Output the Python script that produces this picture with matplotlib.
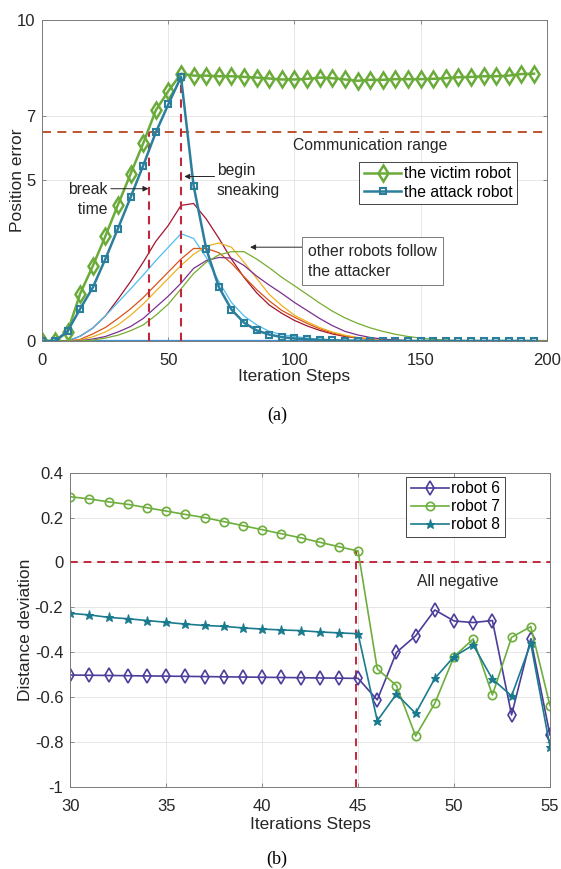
import numpy as np
import matplotlib
matplotlib.use('Agg')
import matplotlib.pyplot as plt

plt.rcParams['font.family'] = ['Liberation Sans', 'DejaVu Sans']

# ---------------- Daten (a) ----------------
steps = list(range(0, 200, 5))          # 0..195
steps_o = list(range(0, 205, 5))        # 0..200

victim = [0, 0, 0.28, 1.47, 2.33, 3.26, 4.24, 5.2, 6.15, 7.18, 7.78, 8.32, 8.26, 8.26,
          8.24, 8.24, 8.22, 8.2, 8.17, 8.14, 8.14, 8.16, 8.2, 8.18, 8.14, 8.1, 8.13,
          8.13, 8.15, 8.15, 8.15, 8.16, 8.18, 8.21, 8.22, 8.24, 8.24, 8.26, 8.31, 8.32]
attack = [0, 0, 0.3, 1.0, 1.66, 2.55, 3.5, 4.47, 5.46, 6.49, 7.37, 8.22, 4.83, 2.87,
          1.68, 0.98, 0.57, 0.33, 0.2, 0.12, 0.08, 0.05, 0.03, 0.02, 0.01, 0.01] + [0] * 14

rob_blue = [0] * 41
rob_red = [0, 0, 0, 0.15, 0.4, 0.78, 1.3, 1.85, 2.45, 3.1, 3.6, 4.22, 4.28, 3.8, 3.2, 2.55,
           1.98, 1.5, 1.12, 0.86, 0.64, 0.47, 0.33, 0.22, 0.14, 0.09, 0.05, 0.03, 0.02,
           0.01] + [0] * 11
rob_lblue = [0, 0, 0, 0.15, 0.4, 0.78, 1.2, 1.62, 2.05, 2.5, 2.92, 3.34, 3.19, 2.6, 1.85,
             1.2, 0.78, 0.5, 0.3, 0.2, 0.14, 0.09, 0.06, 0.04, 0.02, 0.01] + [0] * 15
rob_orange = [0, 0, 0, 0.05, 0.22, 0.42, 0.7, 1.0, 1.35, 1.75, 2.15, 2.55, 2.88, 2.88,
              2.75, 2.42, 2.0, 1.6, 1.25, 0.95, 0.74, 0.55, 0.38, 0.25, 0.16, 0.1, 0.06,
              0.04, 0.02, 0.01] + [0] * 11
rob_yellow = [0, 0, 0, 0.03, 0.13, 0.28, 0.5, 0.8, 1.15, 1.55, 1.95, 2.35, 2.7, 2.95,
              3.05, 2.92, 2.45, 1.95, 1.45, 1.1, 0.8, 0.6, 0.42, 0.28, 0.18, 0.11, 0.07,
              0.04, 0.02, 0.01] + [0] * 11
rob_purple = [0, 0, 0, 0.01, 0.06, 0.14, 0.28, 0.45, 0.7, 1.05, 1.4, 1.8, 2.26, 2.5, 2.6,
              2.58, 2.35, 2.02, 1.74, 1.48, 1.2, 0.95, 0.7, 0.48, 0.3, 0.19, 0.11, 0.06,
              0.03, 0.01] + [0] * 11
rob_green = [0, 0, 0, 0, 0.03, 0.09, 0.18, 0.32, 0.5, 0.8, 1.15, 1.62, 2.1, 2.45, 2.68,
             2.78, 2.78, 2.55, 2.28, 1.98, 1.72, 1.45, 1.18, 0.93, 0.72, 0.55, 0.41, 0.3,
             0.21, 0.14, 0.09, 0.05, 0.03, 0.01] + [0] * 7

comm_range = 6.52
break_step = 42.5
sneak_step = 55

# ---------------- Daten (b) ----------------
steps_b = list(range(30, 56))
robot6 = [-0.502, -0.503, -0.504, -0.505, -0.506, -0.507, -0.508, -0.509, -0.510, -0.511,
          -0.512, -0.513, -0.514, -0.515, -0.516, -0.517,
          -0.613, -0.401, -0.327, -0.212, -0.261, -0.268, -0.259, -0.68, -0.341, -0.769]
robot7 = [0.293, 0.283, 0.27, 0.259, 0.244, 0.229, 0.214, 0.2, 0.182, 0.164, 0.146, 0.128,
          0.11, 0.09, 0.07, 0.051,
          -0.475, -0.549, -0.774, -0.628, -0.42, -0.341, -0.591, -0.334, -0.286, -0.638]
robot8 = [-0.227, -0.234, -0.245, -0.251, -0.259, -0.267, -0.275, -0.281, -0.285, -0.292,
          -0.297, -0.301, -0.304, -0.31, -0.314, -0.318,
          -0.706, -0.587, -0.673, -0.517, -0.42, -0.368, -0.52, -0.595, -0.361, -0.821]
switch_step = 44.9

TXT = '#262626'
FS = 11.3   # Textgrösse Annotationen/Legende


def style(ax):
    # MATLAB-artiger Rahmen
    for s in ax.spines.values():
        s.set_color('#7a7a7a')
        s.set_linewidth(0.7)
    ax.tick_params(direction='in', length=3, width=0.6, colors='#7a7a7a',
                   labelcolor=TXT, labelsize=12, top=True, right=True)
    ax.tick_params(axis='x', pad=8.5)
    ax.tick_params(axis='y', pad=5)
    ax.grid(True, color='#e3e3e3', linewidth=0.6)
    ax.set_axisbelow(True)


fig = plt.figure(figsize=(5.61, 8.69), dpi=100)

# ---------------- Plot (a) ----------------
ax1 = fig.add_axes([0.0754, 0.6076, 0.899, 0.3697])
style(ax1)
ax1.plot(steps_o, rob_blue, color='#3f8fd2', lw=1.6)
for vals, c in [(rob_red, '#A2142F'), (rob_lblue, '#4DBEEE'), (rob_orange, '#D95319'),
                (rob_yellow, '#EDB120'), (rob_purple, '#7E2F8E'), (rob_green, '#77AC30')]:
    ax1.plot(steps_o, vals, color=c, lw=0.9)
ax1.plot([0, 200], [comm_range, comm_range], '--', color='#B9471C', lw=1.3, dashes=(5, 3.5))
ax1.plot([break_step, break_step], [0, comm_range], '--', color='#C0283C', lw=1.5, dashes=(4, 3))
ax1.plot([sneak_step, sneak_step], [0, 8.22], '--', color='#C0283C', lw=1.5, dashes=(4, 3))
l1, = ax1.plot(steps, victim, color='#6AAB3A', lw=1.8, marker='d', ms=8.5, mfc='none', mew=1.8)
l2, = ax1.plot(steps, attack, color='#2B7E9C', lw=1.8, marker='s', ms=4.5, mfc='none', mew=1.5)

ax1.set_xlim(0, 200)
ax1.set_ylim(0, 10)
ax1.set_xticks([0, 50, 100, 150, 200])
ax1.set_yticks([0, 5, 7, 10])
ax1.set_xlabel('Iteration Steps', fontsize=12.5, color=TXT)
ax1.set_ylabel('Position error', fontsize=12.5, color=TXT)
ax1.xaxis.set_label_coords(0.5, -0.088)
ax1.yaxis.set_label_coords(-0.034, 0.5)

leg = ax1.legend([l1, l2], ['the victim robot', 'the attack robot'], loc='upper left',
                 bbox_to_anchor=(0.628, 0.558), fontsize=FS, frameon=True, fancybox=False,
                 edgecolor=TXT, framealpha=1, handlelength=2.4, handletextpad=0.15,
                 borderpad=0.3, labelspacing=0.2, borderaxespad=0)
leg.get_frame().set_linewidth(0.6)

ax1.text(99.5, 6.09, 'Communication range', fontsize=FS, color=TXT, va='center')
ap = dict(arrowstyle='-|>', lw=0.7, color=TXT, mutation_scale=8, shrinkA=0, shrinkB=0)
ax1.annotate('', xy=(break_step - 0.4, 4.74), xytext=(27.2, 4.74), arrowprops=ap)
ax1.text(25.9, 4.4, 'break\n  time', fontsize=FS, color=TXT, ha='right', va='center',
         linespacing=1.4)
ax1.annotate('', xy=(sneak_step + 1.3, 5.12), xytext=(68.3, 5.12), arrowprops=ap)
ax1.text(69.3, 5.0, 'begin\nsneaking', fontsize=FS, color=TXT, ha='left', va='center',
         linespacing=1.4)
ax1.annotate('', xy=(82.4, 2.92), xytext=(103.3, 2.92), arrowprops=ap)
ax1.text(105.4, 2.48, 'other robots follow\nthe attacker', fontsize=FS, color=TXT,
         ha='left', va='center', linespacing=1.45,
         bbox=dict(boxstyle='square,pad=0.4', fc='white', ec='#7a7a7a', lw=0.7))

fig.text(0.494, 0.5224, '(a)', family='Liberation Serif', fontsize=13, ha='center', va='center')

# ---------------- Plot (b) ----------------
ax2 = fig.add_axes([0.1253, 0.0947, 0.855, 0.3613])
style(ax2)
ax2.plot([30, 55], [0, 0], '--', color='#C0283C', lw=1.4, dashes=(4, 3))
ax2.plot([switch_step, switch_step], [-1, 0.05], '--', color='#C0283C', lw=1.4, dashes=(4, 3))
ax2.plot(steps_b, robot6, color='#4B3D9A', lw=1.2, marker='d', ms=7, mfc='none', mew=1.2,
         label='robot 6')
ax2.plot(steps_b, robot7, color='#6DAE3C', lw=1.2, marker='o', ms=6, mfc='none', mew=1.2,
         label='robot 7')
ax2.plot(steps_b, robot8, color='#1B7B8E', lw=1.2, marker='*', ms=6.5, mew=0.8,
         label='robot 8')
ax2.set_xlim(30, 55)
ax2.set_ylim(-1, 0.4)
ax2.set_xticks(range(30, 56, 5))
ax2.set_yticks([-1, -0.8, -0.6, -0.4, -0.2, 0, 0.2, 0.4])
ax2.set_yticklabels(['-1', '-0.8', '-0.6', '-0.4', '-0.2', '0', '0.2', '0.4'])
ax2.set_xlabel('Iterations Steps', fontsize=12.5, color=TXT)
ax2.set_ylabel('Distance deviation', fontsize=12.5, color=TXT)
ax2.xaxis.set_label_coords(0.5, -0.096)
ax2.yaxis.set_label_coords(-0.078, 0.5)
ax2.text(50.2, -0.086, 'All negative', fontsize=FS, color=TXT, ha='center', va='center')

leg2 = ax2.legend(loc='upper right', bbox_to_anchor=(0.906, 0.988), fontsize=FS,
                  frameon=True, fancybox=False, edgecolor=TXT, framealpha=1,
                  handlelength=2.4, handletextpad=0.15, borderpad=0.3, labelspacing=0.2,
                  borderaxespad=0)
leg2.get_frame().set_linewidth(0.6)

fig.text(0.494, 0.0115, '(b)', family='Liberation Serif', fontsize=13, ha='center', va='center')

fig.savefig('out.png', dpi=100)
